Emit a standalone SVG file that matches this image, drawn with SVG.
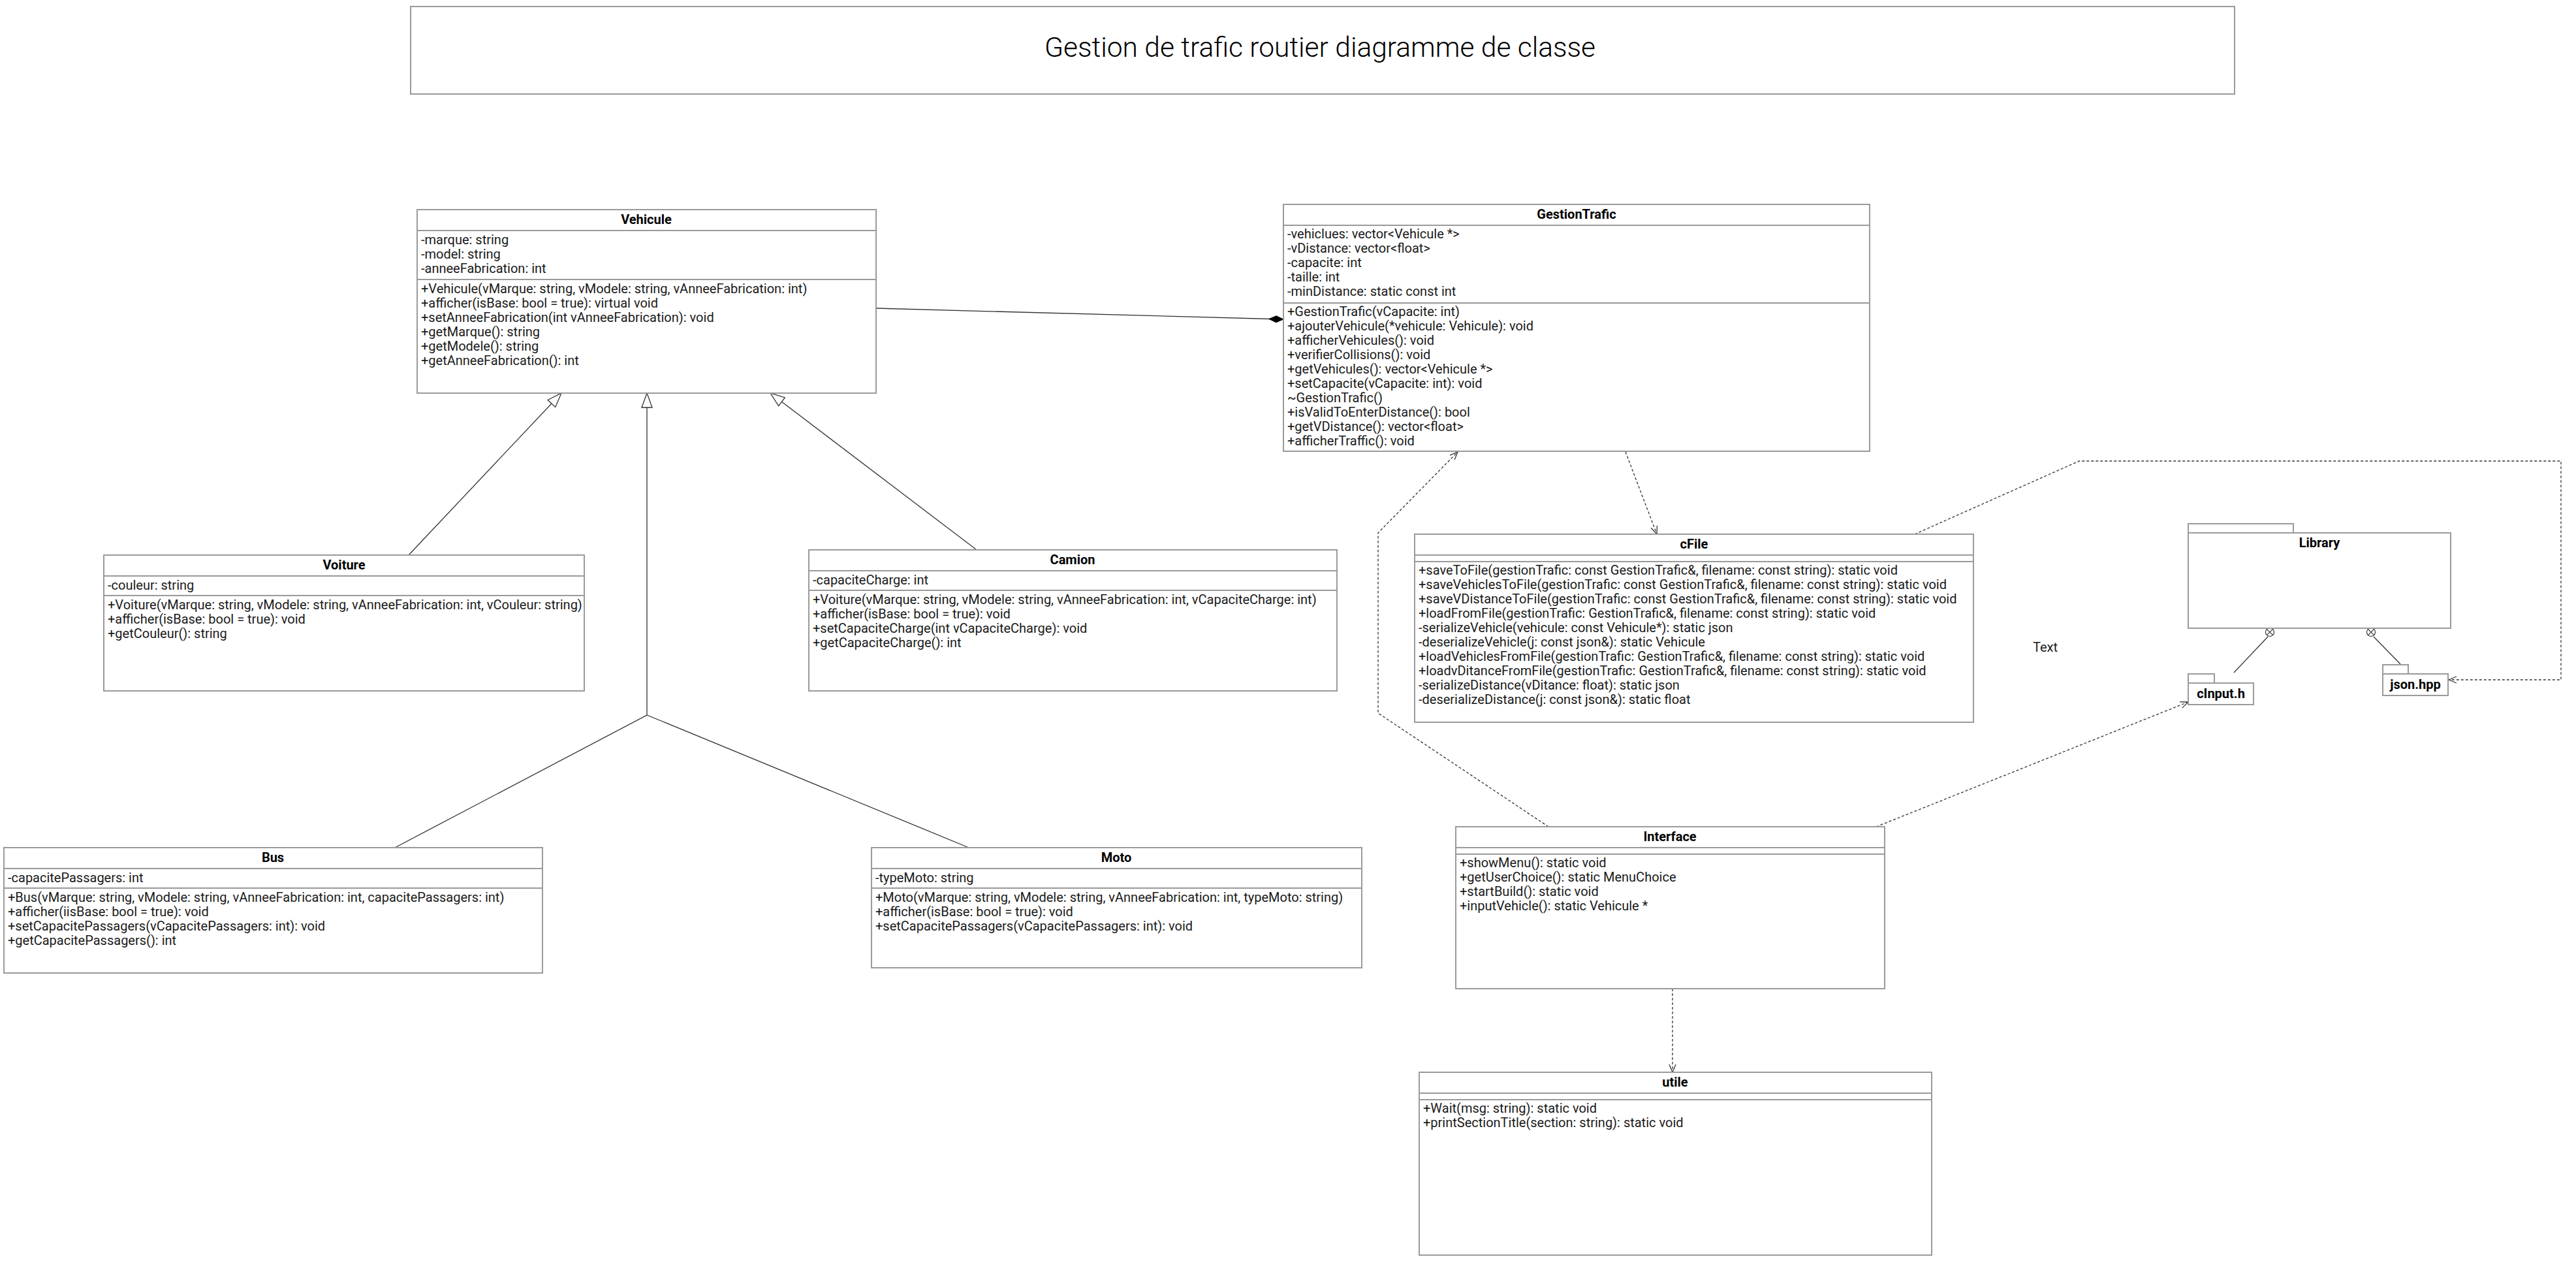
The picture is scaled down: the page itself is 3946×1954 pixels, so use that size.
<svg xmlns="http://www.w3.org/2000/svg" width="3946" height="1954" viewBox="0 0 3946 1954">
<style>
.bg{fill:#fff}
.box{fill:#fff;stroke:#9a9a9a;stroke-width:2}
.sep{stroke:#9a9a9a;stroke-width:2;fill:none}
.t{font-family:Roboto,"Liberation Sans",sans-serif;font-size:20px;fill:#1a1a1a}
.h{font-weight:bold;text-anchor:middle;fill:#000}
.title{font-family:Roboto,"Liberation Sans",sans-serif;font-size:42.5px;font-weight:300;text-anchor:middle;fill:#000}
.c{stroke:#333;stroke-width:1.3;fill:none}
.d{stroke-dasharray:4 3}
</style>
<defs>
<marker id="tri" markerUnits="userSpaceOnUse" markerWidth="24" markerHeight="18" viewBox="0 0 24 18" refX="23" refY="9" orient="auto">
<path d="M1,1 L23,9 L1,17 Z" fill="#fff" stroke="#333" stroke-width="1.3"/>
</marker>
<marker id="open" markerUnits="userSpaceOnUse" markerWidth="14" markerHeight="12" viewBox="0 0 14 12" refX="13" refY="6" orient="auto">
<path d="M1,1 L13,6 L1,11" fill="none" stroke="#333" stroke-width="1.3"/>
</marker>
<marker id="dia" markerUnits="userSpaceOnUse" markerWidth="24" markerHeight="12" viewBox="0 0 24 12" refX="23" refY="6" orient="auto">
<path d="M1,6 L12,1 L23,6 L12,11 Z" fill="#000" stroke="#000" stroke-width="1"/>
</marker>
</defs>
<rect class="bg" x="0" y="0" width="3946" height="1954"/>

<g id="title">
<rect class="box" x="629" y="10" width="2794" height="134"/>
<text class="title" x="2022" y="87">Gestion de trafic routier diagramme de classe</text>
</g>

<g id="connectors">
<polyline class="c" points="626,850 860,602" marker-end="url(#tri)"/>
<polyline class="c" points="1496,842 1180,602" marker-end="url(#tri)"/>
<polyline class="c" points="605,1298 991,1095 991,602" marker-end="url(#tri)"/>
<polyline class="c" points="1484,1298 991,1095"/>
<polyline class="c" points="1341,472 1966,489" marker-end="url(#dia)"/>
<polyline class="c d" points="2490,692 2538,818" marker-end="url(#open)"/>
<polyline class="c d" points="2372,1266 2111,1092 2111,816 2233,692" marker-end="url(#open)"/>
<polyline class="c d" points="2933,818 3185,706 3923,706 3923,1041 3751,1041" marker-end="url(#open)"/>
<polyline class="c d" points="2874,1266 3352,1075" marker-end="url(#open)"/>
<polyline class="c d" points="2562,1514 2562,1642" marker-end="url(#open)"/>
<line class="c" x1="3422" y1="1030" x2="3474" y2="975"/>
<line class="c" x1="3677" y1="1017" x2="3636" y2="975"/>
<circle cx="3477" cy="968" r="6.5" fill="#fff" stroke="#333" stroke-width="1.2"/>
<path d="M3472.4,963.4 L3481.6,972.6 M3481.6,963.4 L3472.4,972.6" stroke="#333" stroke-width="1.2"/>
<circle cx="3632" cy="968" r="6.5" fill="#fff" stroke="#333" stroke-width="1.2"/>
<path d="M3627.4,963.4 L3636.6,972.6 M3636.6,963.4 L3627.4,972.6" stroke="#333" stroke-width="1.2"/>
</g>

<g id="Vehicule">
<rect class="box" x="639" y="321" width="703" height="281"/>
<line class="sep" x1="639" y1="353" x2="1342" y2="353"/>
<line class="sep" x1="639" y1="428" x2="1342" y2="428"/>
<text class="t h" x="990" y="343">Vehicule</text>
<text class="t" x="645" y="374">-marque: string</text>
<text class="t" x="645" y="396">-model: string</text>
<text class="t" x="645" y="418">-anneeFabrication: int</text>
<text class="t" x="645" y="449">+Vehicule(vMarque: string, vModele: string, vAnneeFabrication: int)</text>
<text class="t" x="645" y="471">+afficher(isBase: bool = true): virtual void</text>
<text class="t" x="645" y="493">+setAnneeFabrication(int vAnneeFabrication): void</text>
<text class="t" x="645" y="515">+getMarque(): string</text>
<text class="t" x="645" y="537">+getModele(): string</text>
<text class="t" x="645" y="559">+getAnneeFabrication(): int</text>
</g>

<g id="GestionTrafic">
<rect class="box" x="1966" y="313" width="898" height="378"/>
<line class="sep" x1="1966" y1="345" x2="2864" y2="345"/>
<line class="sep" x1="1966" y1="464" x2="2864" y2="464"/>
<text class="t h" x="2415" y="335">GestionTrafic</text>
<text class="t" x="1972" y="365">-vehiclues: vector&lt;Vehicule *&gt;</text>
<text class="t" x="1972" y="387">-vDistance: vector&lt;float&gt;</text>
<text class="t" x="1972" y="409">-capacite: int</text>
<text class="t" x="1972" y="431">-taille: int</text>
<text class="t" x="1972" y="453">-minDistance: static const int</text>
<text class="t" x="1972" y="484">+GestionTrafic(vCapacite: int)</text>
<text class="t" x="1972" y="506">+ajouterVehicule(*vehicule: Vehicule): void</text>
<text class="t" x="1972" y="528">+afficherVehicules(): void</text>
<text class="t" x="1972" y="550">+verifierCollisions(): void</text>
<text class="t" x="1972" y="572">+getVehicules(): vector&lt;Vehicule *&gt;</text>
<text class="t" x="1972" y="594">+setCapacite(vCapacite: int): void</text>
<text class="t" x="1972" y="616">~GestionTrafic()</text>
<text class="t" x="1972" y="638">+isValidToEnterDistance(): bool</text>
<text class="t" x="1972" y="660">+getVDistance(): vector&lt;float&gt;</text>
<text class="t" x="1972" y="682">+afficherTraffic(): void</text>
</g>

<g id="Voiture">
<rect class="box" x="159" y="850" width="736" height="208"/>
<line class="sep" x1="159" y1="882" x2="895" y2="882"/>
<line class="sep" x1="159" y1="912" x2="895" y2="912"/>
<text class="t h" x="527" y="872">Voiture</text>
<text class="t" x="165" y="903">-couleur: string</text>
<text class="t" x="165" y="933">+Voiture(vMarque: string, vModele: string, vAnneeFabrication: int, vCouleur: string)</text>
<text class="t" x="165" y="955">+afficher(isBase: bool = true): void</text>
<text class="t" x="165" y="977">+getCouleur(): string</text>
</g>

<g id="Camion">
<rect class="box" x="1239" y="842" width="809" height="216"/>
<line class="sep" x1="1239" y1="874" x2="2048" y2="874"/>
<line class="sep" x1="1239" y1="904" x2="2048" y2="904"/>
<text class="t h" x="1643" y="864">Camion</text>
<text class="t" x="1245" y="895">-capaciteCharge: int</text>
<text class="t" x="1245" y="925">+Voiture(vMarque: string, vModele: string, vAnneeFabrication: int, vCapaciteCharge: int)</text>
<text class="t" x="1245" y="947">+afficher(isBase: bool = true): void</text>
<text class="t" x="1245" y="969">+setCapaciteCharge(int vCapaciteCharge): void</text>
<text class="t" x="1245" y="991">+getCapaciteCharge(): int</text>
</g>

<g id="Bus">
<rect class="box" x="6" y="1298" width="825" height="192"/>
<line class="sep" x1="6" y1="1330" x2="831" y2="1330"/>
<line class="sep" x1="6" y1="1360" x2="831" y2="1360"/>
<text class="t h" x="418" y="1320">Bus</text>
<text class="t" x="12" y="1351">-capacitePassagers: int</text>
<text class="t" x="12" y="1381">+Bus(vMarque: string, vModele: string, vAnneeFabrication: int, capacitePassagers: int)</text>
<text class="t" x="12" y="1403">+afficher(iisBase: bool = true): void</text>
<text class="t" x="12" y="1425">+setCapacitePassagers(vCapacitePassagers: int): void</text>
<text class="t" x="12" y="1447">+getCapacitePassagers(): int</text>
</g>

<g id="Moto">
<rect class="box" x="1335" y="1298" width="751" height="184"/>
<line class="sep" x1="1335" y1="1330" x2="2086" y2="1330"/>
<line class="sep" x1="1335" y1="1360" x2="2086" y2="1360"/>
<text class="t h" x="1710" y="1320">Moto</text>
<text class="t" x="1341" y="1351">-typeMoto: string</text>
<text class="t" x="1341" y="1381">+Moto(vMarque: string, vModele: string, vAnneeFabrication: int, typeMoto: string)</text>
<text class="t" x="1341" y="1403">+afficher(isBase: bool = true): void</text>
<text class="t" x="1341" y="1425">+setCapacitePassagers(vCapacitePassagers: int): void</text>
</g>

<g id="cFile">
<rect class="box" x="2167" y="818" width="856" height="288"/>
<line class="sep" x1="2167" y1="850" x2="3023" y2="850"/>
<line class="sep" x1="2167" y1="860" x2="3023" y2="860"/>
<text class="t h" x="2595" y="840">cFile</text>
<text class="t" x="2173" y="880">+saveToFile(gestionTrafic: const GestionTrafic&amp;, filename: const string): static void</text>
<text class="t" x="2173" y="902">+saveVehiclesToFile(gestionTrafic: const GestionTrafic&amp;, filename: const string): static void</text>
<text class="t" x="2173" y="924">+saveVDistanceToFile(gestionTrafic: const GestionTrafic&amp;, filename: const string): static void</text>
<text class="t" x="2173" y="946">+loadFromFile(gestionTrafic: GestionTrafic&amp;, filename: const string): static void</text>
<text class="t" x="2173" y="968">-serializeVehicle(vehicule: const Vehicule*): static json</text>
<text class="t" x="2173" y="990">-deserializeVehicle(j: const json&amp;): static Vehicule</text>
<text class="t" x="2173" y="1012">+loadVehiclesFromFile(gestionTrafic: GestionTrafic&amp;, filename: const string): static void</text>
<text class="t" x="2173" y="1034">+loadvDitanceFromFile(gestionTrafic: GestionTrafic&amp;, filename: const string): static void</text>
<text class="t" x="2173" y="1056">-serializeDistance(vDitance: float): static json</text>
<text class="t" x="2173" y="1078">-deserializeDistance(j: const json&amp;): static float</text>
</g>

<g id="Interface">
<rect class="box" x="2230" y="1266" width="657" height="248"/>
<line class="sep" x1="2230" y1="1298" x2="2887" y2="1298"/>
<line class="sep" x1="2230" y1="1308" x2="2887" y2="1308"/>
<text class="t h" x="2558" y="1288">Interface</text>
<text class="t" x="2236" y="1328">+showMenu(): static void</text>
<text class="t" x="2236" y="1350">+getUserChoice(): static MenuChoice</text>
<text class="t" x="2236" y="1372">+startBuild(): static void</text>
<text class="t" x="2236" y="1394">+inputVehicle(): static Vehicule *</text>
</g>

<g id="utile">
<rect class="box" x="2174" y="1642" width="785" height="280"/>
<line class="sep" x1="2174" y1="1674" x2="2959" y2="1674"/>
<line class="sep" x1="2174" y1="1684" x2="2959" y2="1684"/>
<text class="t h" x="2566" y="1664">utile</text>
<text class="t" x="2180" y="1704">+Wait(msg: string): static void</text>
<text class="t" x="2180" y="1726">+printSectionTitle(section: string): static void</text>
</g>

<g id="Library">
<rect class="box" x="3352" y="802" width="161" height="14"/>
<rect class="box" x="3352" y="816" width="402" height="146"/>
<text class="t h" x="3553" y="838">Library</text>
</g>

<g id="cInput">
<rect class="box" x="3352" y="1032" width="40" height="14"/>
<rect class="box" x="3352" y="1046" width="100" height="33"/>
<text class="t h" x="3402" y="1069">cInput.h</text>
</g>

<g id="json">
<rect class="box" x="3650" y="1018" width="39" height="14"/>
<rect class="box" x="3650" y="1032" width="100" height="33"/>
<text class="t h" x="3700" y="1055">json.hpp</text>
</g>

<g id="note">
<text class="t" x="3114" y="998">Text</text>
</g>
</svg>
